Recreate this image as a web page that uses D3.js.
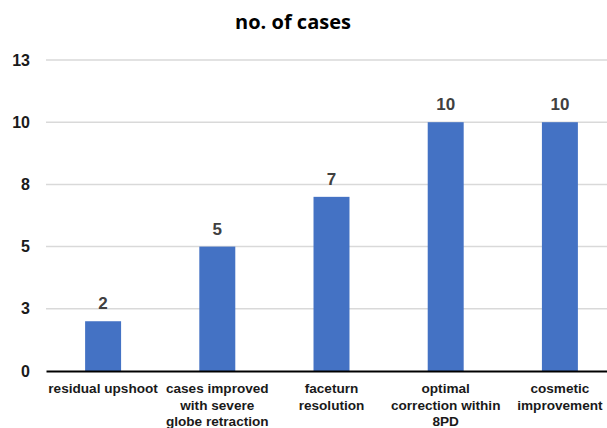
<!DOCTYPE html>
<html>
<head>
<meta charset="utf-8">
<script src="https://cdn.jsdelivr.net/npm/d3@7"></script>
<style>
  body { margin: 0; background: #fff; }
  svg { display: block; }
</style>
</head>
<body>
<div id="chart"></div>
<script>
'use strict';
// chart data
var categories = ["residual upshoot", "cases improved with severe globe retraction", "faceturn resolution", "optimal correction within 8PD", "cosmetic improvement"];
var categoryLines = [
  ["residual upshoot"],
  ["cases improved", "with severe", "globe retraction"],
  ["faceturn", "resolution"],
  ["optimal", "correction within", "8PD"],
  ["cosmetic", "improvement"]
];
var values = [2, 5, 7, 10, 10];
var yTicks = [0, 2.5, 5, 7.5, 10, 12.5];
var chartTitle = "no. of cases";

var width = 607, height = 428;
var margin = { top: 60, right: -10, bottom: 57, left: 46 };

var svg = d3.select("#chart").append("svg")
    .attr("width", width)
    .attr("height", height);

var x = d3.scaleBand()
    .domain(categories)
    .range([margin.left, width - margin.right])
    .paddingInner(0.685)
    .paddingOuter(0.3425);

var y = d3.scaleLinear()
    .domain([0, 12.5])
    .range([height - margin.bottom, margin.top]);

// title
svg.append("text")
    .attr("x", 293)
    .attr("y", 29)
    .attr("text-anchor", "middle")
    .style("font-family", "'Open Sans', sans-serif")
    .style("font-weight", "bold")
    .style("font-size", "20px")
    .style("fill", "#000")
    .text(chartTitle);

// gridlines
svg.append("g")
    .selectAll("line")
    .data(yTicks.filter(function(d) { return d > 0; }))
    .enter().append("line")
    .attr("x1", margin.left)
    .attr("x2", width)
    .attr("y1", function(d) { return y(d); })
    .attr("y2", function(d) { return y(d); })
    .style("stroke", "#d9d9d9")
    .style("stroke-width", 1.5);

// y axis labels
var yAxis = d3.axisLeft(y)
    .tickValues(yTicks)
    .tickFormat(d3.format(".0f"))
    .tickSize(0)
    .tickPadding(16);

var gy = svg.append("g")
    .attr("transform", "translate(" + margin.left + ",0)")
    .call(yAxis);
gy.select(".domain").remove();
gy.selectAll("text")
    .style("font-family", "'Liberation Sans', Arial, sans-serif")
    .style("font-weight", "bold")
    .style("font-size", "16px")
    .style("fill", "#1a1a1a");

// bars
svg.append("g")
    .selectAll("rect")
    .data(values)
    .enter().append("rect")
    .attr("x", function(d, i) { return x(categories[i]); })
    .attr("width", x.bandwidth())
    .attr("y", function(d) { return y(d); })
    .attr("height", function(d) { return y(0) - y(d); })
    .style("fill", "#4472c4");

// value labels
svg.append("g")
    .selectAll("text")
    .data(values)
    .enter().append("text")
    .attr("x", function(d, i) { return x(categories[i]) + x.bandwidth() / 2; })
    .attr("y", function(d) { return y(d) - 12; })
    .attr("text-anchor", "middle")
    .style("font-family", "'Liberation Sans', Arial, sans-serif")
    .style("font-weight", "bold")
    .style("font-size", "17px")
    .style("fill", "#404040")
    .text(function(d) { return d; });

// x axis baseline
var xAxis = d3.axisBottom(x).tickSize(0).tickFormat("");
var gx = svg.append("g")
    .attr("transform", "translate(0," + y(0) + ")")
    .call(xAxis);
gx.select(".domain")
    .style("stroke", "#000")
    .style("stroke-width", 2);

// category labels
var labels = svg.append("g")
    .selectAll("text")
    .data(categories)
    .enter().append("text")
    .attr("x", function(d) { return x(d) + x.bandwidth() / 2; })
    .attr("y", y(0) + 22)
    .attr("text-anchor", "middle")
    .style("font-family", "'Liberation Sans', Arial, sans-serif")
    .style("font-weight", "bold")
    .style("font-size", "13.6px")
    .style("fill", "#1a1a1a");

labels.selectAll("tspan")
    .data(function(d, i) { return categoryLines[i]; })
    .enter().append("tspan")
    .attr("x", function() { return d3.select(this.parentNode).attr("x"); })
    .attr("dy", function(d, i) { return i === 0 ? 0 : 16.5; })
    .text(function(d) { return d; });
</script>
</body>
</html>
